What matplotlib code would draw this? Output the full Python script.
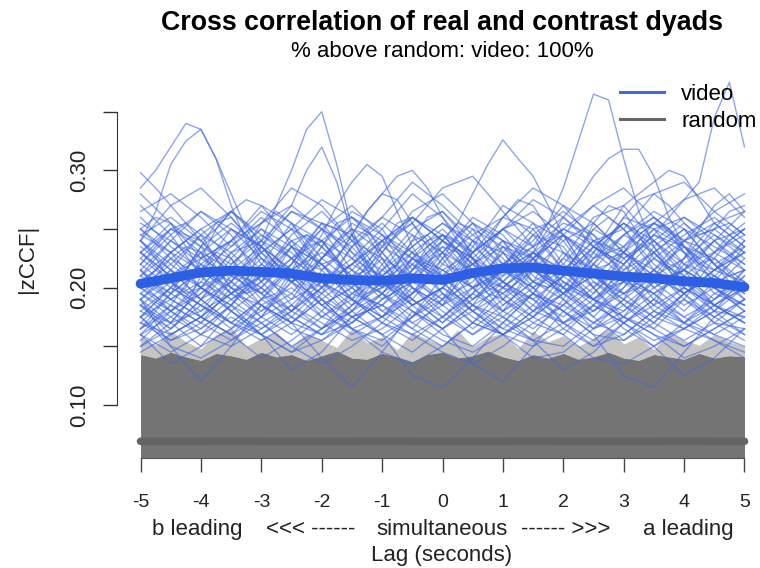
import matplotlib
matplotlib.use("Agg")
import matplotlib.pyplot as plt
from matplotlib.lines import Line2D
import numpy as np

plt.rcParams['font.family'] = ['Liberation Sans', 'DejaVu Sans']
plt.rcParams['axes.unicode_minus'] = False

lag_coarse = [-5, -4.5, -4, -3.5, -3, -2.5, -2, -1.5, -1, -0.5, 0,
              0.5, 1, 1.5, 2, 2.5, 3, 3.5, 4, 4.5, 5]
lag_fine = [-5, -4.75, -4.5, -4.25, -4, -3.75, -3.5, -3.25, -3, -2.75, -2.5,
            -2.25, -2, -1.75, -1.5, -1.25, -1, -0.75, -0.5, -0.25, 0,
            0.25, 0.5, 0.75, 1, 1.25, 1.5, 1.75, 2, 2.25, 2.5,
            2.75, 3, 3.25, 3.5, 3.75, 4, 4.25, 4.5, 4.75, 5]

# |zCCF| x 1000, one row per video dyad (0.5 s steps)
video_coarse = [
    [210, 240, 265, 245, 205, 180, 200, 235, 255, 230, 195, 170, 190, 225, 250, 240, 210, 185, 200, 230, 245],
    [180, 165, 190, 225, 250, 235, 200, 175, 185, 215, 240, 225, 190, 170, 185, 220, 245, 230, 200, 180, 175],
    [250, 230, 200, 185, 210, 245, 265, 240, 205, 185, 200, 230, 260, 250, 215, 190, 180, 205, 240, 255, 235],
    [160, 185, 220, 240, 215, 185, 165, 180, 215, 245, 230, 200, 175, 160, 190, 230, 255, 235, 195, 170, 165],
    [230, 255, 235, 200, 175, 190, 225, 245, 220, 185, 165, 185, 220, 245, 235, 200, 170, 185, 225, 245, 225],
    [195, 175, 160, 185, 220, 255, 240, 205, 180, 165, 190, 230, 250, 225, 190, 165, 190, 230, 250, 220, 190],
    [270, 245, 210, 190, 205, 235, 220, 190, 170, 195, 230, 255, 240, 210, 195, 215, 245, 260, 235, 205, 200],
    [175, 200, 230, 215, 185, 170, 195, 235, 260, 245, 210, 185, 170, 195, 230, 215, 185, 170, 195, 215, 230],
    [220, 200, 185, 205, 240, 265, 250, 215, 190, 205, 235, 210, 180, 195, 225, 260, 270, 240, 210, 190, 205],
    [150, 170, 200, 230, 250, 225, 190, 165, 150, 175, 210, 240, 230, 200, 170, 155, 175, 210, 240, 250, 230],
    [240, 215, 190, 170, 190, 220, 250, 270, 245, 210, 185, 200, 230, 255, 240, 205, 185, 205, 215, 200, 180],
    [200, 230, 250, 225, 195, 170, 160, 185, 220, 250, 265, 240, 205, 180, 200, 235, 220, 190, 170, 190, 215],
    [185, 160, 175, 205, 235, 215, 185, 200, 240, 255, 225, 190, 210, 245, 265, 245, 210, 180, 165, 180, 210],
    [260, 235, 215, 235, 260, 240, 205, 180, 195, 225, 245, 220, 190, 175, 195, 225, 245, 265, 250, 220, 200],
    [205, 225, 210, 180, 160, 180, 215, 240, 225, 190, 170, 195, 235, 225, 195, 175, 200, 235, 255, 230, 250],
    [165, 195, 235, 255, 235, 205, 225, 255, 240, 200, 175, 160, 180, 215, 240, 255, 230, 200, 180, 205, 235],
    [230, 205, 175, 160, 175, 210, 240, 225, 195, 170, 185, 225, 250, 235, 200, 190, 215, 240, 215, 185, 170],
    [195, 215, 245, 265, 240, 210, 185, 165, 175, 205, 230, 215, 185, 205, 245, 270, 250, 215, 195, 215, 240],
    [245, 260, 240, 210, 195, 220, 255, 245, 210, 185, 200, 235, 270, 255, 220, 200, 175, 165, 190, 225, 205],
    [175, 155, 170, 200, 225, 205, 175, 190, 230, 260, 240, 210, 195, 175, 160, 185, 220, 250, 260, 240, 215],
    [215, 190, 205, 240, 265, 250, 215, 190, 175, 190, 220, 250, 235, 205, 220, 250, 235, 205, 185, 200, 225],
    [155, 180, 205, 190, 170, 185, 210, 200, 175, 160, 175, 200, 215, 195, 170, 180, 205, 195, 170, 160, 175],
    [190, 170, 150, 165, 190, 175, 160, 170, 195, 180, 160, 150, 170, 195, 180, 160, 155, 175, 190, 170, 155],
    [170, 155, 165, 185, 170, 150, 165, 180, 160, 145, 165, 185, 175, 155, 150, 170, 185, 165, 150, 165, 180],
    [280, 255, 225, 240, 270, 255, 225, 205, 230, 265, 280, 255, 220, 240, 270, 255, 230, 210, 225, 255, 265],
    [240, 270, 285, 260, 230, 250, 275, 260, 235, 255, 285, 295, 265, 235, 250, 270, 285, 260, 240, 265, 280],
    [225, 250, 240, 215, 235, 265, 255, 225, 250, 280, 260, 230, 250, 275, 260, 235, 220, 245, 275, 285, 260],
    [200, 185, 170, 155, 175, 205, 190, 165, 155, 175, 200, 180, 160, 175, 205, 190, 165, 150, 170, 195, 185],
    [165, 180, 200, 185, 160, 145, 165, 195, 185, 165, 150, 170, 200, 190, 165, 150, 170, 190, 175, 160, 150],
    [265, 280, 260, 235, 255, 285, 270, 240, 260, 290, 270, 245, 260, 285, 270, 240, 250, 280, 290, 265, 245],
    [210, 195, 215, 250, 235, 205, 235, 265, 250, 215, 230, 260, 245, 215, 200, 225, 260, 250, 220, 240, 265],
    [185, 205, 190, 170, 190, 215, 195, 175, 195, 225, 210, 185, 200, 220, 200, 180, 200, 225, 210, 185, 200],
    [145, 160, 175, 160, 140, 155, 175, 165, 145, 135, 150, 170, 160, 140, 145, 165, 175, 160, 140, 150, 165],
    [175, 150, 140, 155, 170, 150, 135, 150, 170, 160, 145, 135, 150, 170, 160, 140, 135, 150, 165, 155, 140],
    [190, 150, 120, 150, 185, 170, 140, 115, 145, 180, 165, 135, 120, 150, 180, 160, 125, 115, 145, 175, 190],
    [160, 135, 150, 180, 160, 130, 145, 175, 160, 125, 115, 140, 170, 155, 130, 145, 170, 150, 125, 140, 165],
    [205, 180, 165, 185, 215, 240, 220, 190, 175, 195, 225, 245, 225, 195, 180, 200, 230, 215, 190, 175, 190],
    [235, 215, 190, 205, 230, 210, 185, 170, 190, 220, 205, 180, 165, 185, 215, 240, 225, 200, 215, 240, 220],
    [170, 195, 215, 200, 180, 195, 225, 250, 230, 200, 185, 210, 240, 230, 205, 185, 170, 190, 220, 210, 195],
    [215, 240, 220, 195, 175, 160, 180, 210, 235, 220, 195, 175, 160, 180, 210, 235, 255, 230, 205, 185, 170],
    [185, 170, 180, 210, 230, 250, 235, 210, 195, 215, 245, 230, 205, 190, 175, 195, 225, 245, 230, 205, 215],
    [250, 225, 200, 180, 200, 225, 205, 185, 200, 230, 250, 225, 200, 225, 245, 220, 195, 215, 235, 225, 200],
    [200, 220, 245, 230, 205, 225, 250, 235, 205, 180, 165, 180, 205, 230, 215, 190, 210, 230, 205, 180, 160],
    [175, 190, 175, 160, 185, 200, 180, 160, 175, 200, 185, 165, 185, 205, 190, 170, 160, 180, 200, 185, 170],
    [225, 205, 185, 170, 160, 175, 200, 220, 205, 185, 200, 220, 205, 185, 170, 185, 210, 195, 175, 190, 210],
    [160, 175, 195, 215, 200, 180, 165, 185, 205, 190, 170, 190, 215, 200, 180, 165, 180, 200, 215, 200, 185],
    [190, 215, 200, 180, 165, 180, 205, 190, 170, 155, 175, 195, 180, 165, 185, 205, 190, 170, 155, 170, 190],
    [245, 230, 250, 265, 245, 225, 240, 260, 245, 225, 215, 230, 250, 265, 245, 225, 235, 255, 240, 220, 235],
    [170, 160, 175, 195, 185, 165, 155, 170, 190, 205, 190, 170, 160, 175, 195, 210, 195, 175, 165, 180, 200],
    [215, 195, 180, 195, 220, 205, 185, 200, 225, 210, 190, 205, 230, 215, 195, 180, 195, 215, 200, 185, 200],
    [180, 200, 220, 205, 185, 170, 190, 210, 195, 175, 190, 215, 200, 180, 195, 220, 205, 185, 170, 185, 205],
    [255, 240, 225, 240, 255, 270, 250, 230, 215, 235, 255, 240, 220, 235, 255, 245, 225, 240, 260, 245, 230],
    [195, 180, 160, 150, 165, 185, 170, 155, 165, 185, 200, 185, 165, 155, 170, 190, 175, 160, 150, 165, 180],
    [165, 185, 170, 190, 210, 195, 175, 195, 215, 200, 180, 160, 175, 195, 185, 170, 190, 210, 195, 175, 160],
    [230, 210, 225, 210, 195, 215, 230, 215, 200, 220, 240, 225, 210, 225, 245, 230, 210, 195, 210, 230, 215],
    [185, 165, 190, 215, 200, 175, 160, 180, 205, 225, 205, 180, 195, 215, 200, 175, 155, 170, 195, 210, 190],
    [150, 165, 185, 170, 155, 170, 190, 175, 160, 175, 195, 180, 160, 150, 165, 185, 170, 155, 165, 185, 175],
    [210, 230, 215, 195, 210, 235, 220, 195, 210, 235, 255, 235, 215, 200, 215, 240, 230, 210, 195, 210, 230],
    [240, 220, 200, 215, 195, 180, 200, 220, 240, 260, 240, 220, 235, 215, 195, 210, 230, 250, 235, 215, 230],
    [200, 180, 195, 220, 245, 230, 205, 220, 245, 230, 210, 190, 205, 230, 215, 195, 220, 245, 235, 210, 195],
    [175, 200, 185, 165, 180, 205, 220, 200, 180, 195, 215, 200, 180, 200, 225, 210, 190, 175, 195, 215, 205],
    [220, 245, 265, 250, 225, 210, 195, 215, 240, 260, 245, 220, 205, 190, 210, 235, 255, 240, 220, 200, 185],
    [160, 145, 160, 175, 160, 145, 155, 175, 185, 170, 155, 145, 160, 180, 170, 150, 160, 180, 170, 155, 145],
    [190, 210, 230, 250, 235, 215, 200, 220, 240, 225, 205, 220, 240, 225, 205, 190, 205, 225, 245, 260, 240],
    [230, 250, 235, 220, 240, 225, 205, 190, 210, 230, 215, 200, 215, 230, 250, 235, 215, 230, 250, 235, 220],
    [205, 190, 175, 195, 210, 190, 205, 225, 210, 190, 175, 195, 215, 230, 210, 190, 175, 195, 215, 200, 180],
]

# |zCCF| x 1000, dyads with the tallest peaks (0.25 s steps)
video_fine = [
    [220, 235, 250, 255, 245, 225, 205, 195, 200, 215, 235, 245, 240, 225, 205, 190, 185,
     195, 215, 235, 245, 240, 225, 210, 215, 235, 250, 255, 245, 225, 210, 200, 205,
     240, 255, 265, 275, 290, 345, 375, 320],
    [190, 175, 170, 185, 210, 230, 225, 205, 190, 195, 215, 235, 240, 225, 205, 195, 200,
     220, 240, 245, 230, 210, 200, 205, 215, 225, 235, 255, 285, 325, 365, 360, 310,
     265, 235, 220, 215, 225, 240, 245, 235],
    [240, 225, 205, 195, 200, 215, 230, 235, 240, 270, 300, 335, 350, 305, 250, 220, 205,
     200, 210, 225, 235, 230, 215, 200, 195, 205, 225, 240, 245, 235, 215, 200, 195,
     200, 215, 230, 240, 235, 220, 210, 215],
    [205, 215, 230, 240, 230, 210, 195, 205, 235, 255, 270, 300, 320, 290, 245, 215, 200,
     205, 225, 240, 245, 230, 210, 195, 190, 200, 220, 235, 230, 215, 200, 210, 230,
     250, 260, 250, 230, 210, 195, 200, 215],
    [285, 300, 320, 340, 335, 310, 280, 250, 230, 215, 205, 210, 225, 240, 250, 245, 225,
     205, 195, 205, 225, 245, 255, 245, 230, 215, 205, 200, 210, 230, 250, 260, 250,
     235, 220, 210, 215, 235, 250, 255, 245],
    [240, 265, 305, 325, 335, 310, 270, 240, 220, 210, 220, 240, 255, 250, 230, 215, 210,
     220, 240, 260, 265, 250, 225, 205, 200, 210, 230, 250, 260, 250, 235, 225, 230,
     245, 255, 250, 235, 220, 215, 225, 240],
    [298, 285, 270, 255, 240, 250, 265, 275, 270, 255, 235, 220, 215, 225, 245, 265, 280,
     275, 255, 235, 220, 215, 220, 235, 250, 255, 245, 230, 215, 210, 220, 240, 260,
     275, 280, 270, 255, 245, 250, 265, 270],
    [200, 210, 225, 235, 230, 215, 200, 195, 205, 225, 240, 245, 235, 220, 210, 215, 235,
     255, 260, 250, 240, 255, 280, 305, 326, 310, 295, 270, 245, 225, 215, 220, 235,
     250, 255, 245, 230, 220, 225, 240, 250],
    [230, 220, 210, 215, 235, 255, 260, 245, 225, 210, 205, 215, 235, 255, 260, 250, 230,
     215, 210, 220, 240, 255, 250, 230, 215, 210, 220, 240, 260, 275, 295, 310, 318,
     318, 295, 260, 235, 225, 230, 245, 255],
    [215, 200, 190, 200, 225, 250, 265, 255, 235, 220, 215, 225, 245, 270, 290, 305, 295,
     265, 235, 215, 210, 220, 240, 250, 240, 220, 205, 200, 210, 230, 255, 270, 265,
     245, 225, 215, 225, 250, 270, 280, 265],
    [250, 260, 255, 235, 215, 205, 215, 235, 255, 265, 255, 235, 220, 225, 245, 265, 280,
     295, 300, 285, 260, 240, 230, 240, 260, 275, 270, 250, 230, 220, 230, 250, 270,
     280, 290, 300, 295, 275, 255, 245, 250],
]

video_mean = [0.2034, 0.2080, 0.2130, 0.2145, 0.2135, 0.2120, 0.2080, 0.2065, 0.2060, 0.2080, 0.2065,
              0.2125, 0.2165, 0.2172, 0.2145, 0.2120, 0.2095, 0.2080, 0.2055, 0.2040, 0.2005]

# random (contrast) dyads: dense band envelope and mean
random_floor = 0.0548
random_top = [143, 140, 145, 141, 138, 144, 142, 139, 145, 141, 143, 138, 142, 146, 140, 139, 144,
              141, 137, 143, 145, 140, 142, 146, 141, 138, 143, 140, 144, 139, 141, 145, 140,
              138, 143, 141, 139, 144, 140, 142, 141]
random_tips = [158, 151, 163, 154, 148, 160, 166, 150, 157, 162, 150, 161, 155, 149, 165, 153, 158,
               147, 162, 156, 151, 164, 150, 158, 161, 148, 163, 154, 159, 150, 157, 165, 152,
               158, 147, 162, 155, 151, 160, 154, 150]
random_mean = [0.0690, 0.0689, 0.0690, 0.0691, 0.0690, 0.0689, 0.0690, 0.0690, 0.0691, 0.0690, 0.0689,
               0.0690, 0.0690, 0.0691, 0.0690, 0.0689, 0.0690, 0.0690, 0.0691, 0.0690, 0.0690]

y_ticks = [0.10, 0.15, 0.20, 0.25, 0.30, 0.35]
y_ticklabels = ['0.10', '', '0.20', '', '0.30', '']
x_ticks = [-5, -4, -3, -2, -1, 0, 1, 2, 3, 4, 5]

blue = '#4169E1'
grey = '#747474'

fig = plt.figure(figsize=(7.6, 5.68), dpi=100)
ax = fig.add_axes([0.1536, 0.1937, 0.8464, 0.6831])
ax.set_xlim(-5.394, 5.257)
ax.set_ylim(0.0548, 0.3856)

ax.fill_between(lag_fine, random_floor, np.array(random_top) / 1000,
                color=grey, lw=0, zorder=1)
ax.fill_between(lag_fine, np.array(random_top) / 1000, np.array(random_tips) / 1000,
                color='#8f8c86', alpha=0.5, lw=0, zorder=1)

for curve in video_coarse:
    ax.plot(lag_coarse, np.array(curve) / 1000, color=blue, lw=1.0, alpha=0.6, zorder=2)
for curve in video_fine:
    ax.plot(lag_fine, np.array(curve) / 1000, color=blue, lw=1.0, alpha=0.6, zorder=2)

ax.plot(lag_coarse, random_mean, color='#646464', lw=5.5, solid_capstyle='round', zorder=3)
ax.plot(lag_coarse, video_mean, color='#2c5fe3', lw=7, solid_capstyle='round', zorder=4)

for side in ['top', 'right']:
    ax.spines[side].set_visible(False)
ax.spines['left'].set_bounds(0.10, 0.35)
ax.spines['bottom'].set_bounds(-5, 5)
ax.spines['left'].set_color('#333333')
ax.spines['bottom'].set_color('#555555')

ax.set_yticks(y_ticks)
ax.set_yticklabels(y_ticklabels)
ax.set_xticks(x_ticks)
ax.set_xticklabels([str(t) for t in x_ticks])
ax.tick_params(axis='y', length=10, width=1, color='#333333', labelsize=16,
               labelcolor='#222222', pad=9, labelrotation=90)
ax.tick_params(axis='x', length=10, width=1, color='#444444', labelsize=14,
               labelcolor='#222222', pad=16)
for lbl in ax.get_yticklabels():
    lbl.set_va('center')

handles = [Line2D([], [], color=blue, lw=2.2), Line2D([], [], color='#666666', lw=2.2)]
ax.legend(handles, ['video', 'random'], loc='upper left',
          bbox_to_anchor=(620 / 760, 1 - 84 / 568), bbox_transform=fig.transFigure,
          frameon=False, fontsize=16, handlelength=2.0, handletextpad=0.75,
          labelspacing=0.26, borderpad=0, borderaxespad=0)

fig.text(442 / 760, 1 - 30 / 568, 'Cross correlation of real and contrast dyads',
         ha='center', va='baseline', fontsize=19.3, fontweight='bold')
fig.text(442 / 760, 1 - 57 / 568, '% above random: video: 100%',
         ha='center', va='baseline', fontsize=16)
fig.text(27 / 760, 1 - 259 / 568, '|zCCF|', rotation=90, ha='center', va='center',
         fontsize=16, color='#222222')

for label, xc in [('b leading', 197), ('<<< ------', 311), ('simultaneous', 442),
                  ('------ >>>', 566), ('a leading', 688)]:
    fig.text(xc / 760, 1 - 535 / 568, label, ha='center', va='baseline',
             fontsize=16, color='#222222')
fig.text(442 / 760, 1 - 561 / 568, 'Lag (seconds)', ha='center', va='baseline',
         fontsize=16, color='#222222')

fig.savefig('out.png', dpi=100)
